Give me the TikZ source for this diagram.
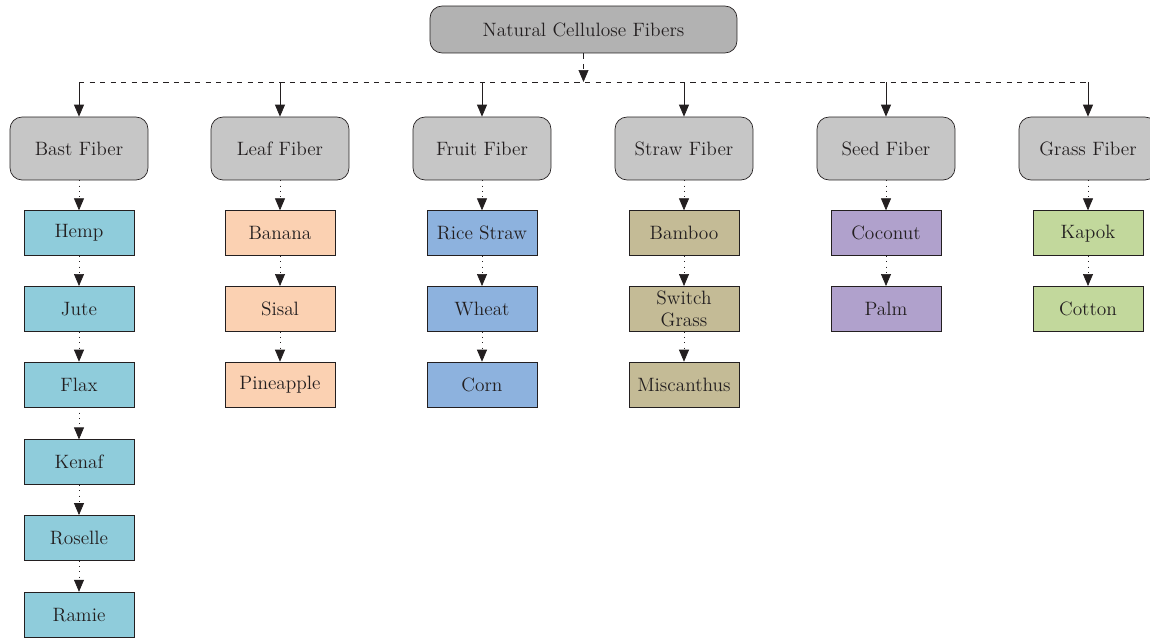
\documentclass[tikz,border=0pt]{standalone}
\usepackage{tikz}
\usetikzlibrary{positioning,arrows.meta}
\usepackage{xcolor}
\definecolor{topgray}{RGB}{178,178,178}
\definecolor{catgray}{RGB}{198,198,198}
\definecolor{bastc}{RGB}{143,204,219}
\definecolor{leafc}{RGB}{251,209,178}
\definecolor{fruitc}{RGB}{141,178,222}
\definecolor{strawc}{RGB}{196,187,150}
\definecolor{seedc}{RGB}{176,161,204}
\definecolor{grassc}{RGB}{194,216,156}
\definecolor{inkc}{RGB}{35,31,32}

\begin{document}
\begin{tikzpicture}[x=0.02cm,y=-0.02cm,font=\fontsize{11pt}{13pt}\selectfont,text=inkc,
				catbox/.style={draw=inkc,fill=catgray,rounded corners=0.24cm,minimum width=2.76cm,minimum height=1.26cm},
				itembox/.style={draw=inkc,minimum width=2.2cm,minimum height=0.9cm,inner sep=1pt},
				tip/.style={-{Triangle[width=0.2cm,length=0.24cm]},draw=inkc},
				dots/.style={dash pattern=on 0.5pt off 2.5pt},
				node distance=0.6cm]
				\useasboundingbox (0,0) rectangle (1150,639);
				\node [catbox,fill=topgray,minimum width=6.14cm,minimum height=0.94cm] (nat) at (583.5,29.5) {Natural Cellulose Fibers};
				\node [catbox] (bast) at (79,148.5) {Bast Fiber};
				\node [catbox] (leaf) at (280,148.5) {Leaf Fiber};
				\node [catbox] (fruit) at (482,148.5) {Fruit Fiber};
				\node [catbox] (straw) at (684,148.5) {Straw Fiber};
				\node [catbox] (seed) at (886,148.5) {Seed Fiber};
				\node [catbox] (grass) at (1088,148.5) {Grass Fiber};
				% bast
				\node [itembox,fill=bastc,below=of bast] (hemp) {Hemp};
				\node [itembox,fill=bastc,below=of hemp] (jute) {Jute};
				\node [itembox,fill=bastc,below=of jute] (flax) {Flax};
				\node [itembox,fill=bastc,below=0.64cm of flax] (kenaf) {Kenaf};
				\node [itembox,fill=bastc,below=of kenaf] (roselle) {Roselle};
				\node [itembox,fill=bastc,below=0.62cm of roselle] (ramie) {Ramie};
				% leaf
				\node [itembox,fill=leafc,below=of leaf] (banana) {Banana};
				\node [itembox,fill=leafc,below=of banana] (sisal) {Sisal};
				\node [itembox,fill=leafc,below=of sisal] (pine) {Pineapple};
				% fruit
				\node [itembox,fill=fruitc,below=of fruit] (rice) {Rice Straw};
				\node [itembox,fill=fruitc,below=of rice] (wheat) {Wheat};
				\node [itembox,fill=fruitc,below=of wheat] (corn) {Corn};
				% straw
				\node [itembox,fill=strawc,below=of straw] (bamboo) {Bamboo};
				\node [itembox,fill=strawc,below=of bamboo,align=center,inner sep=0pt,font=\fontsize{11pt}{12.5pt}\selectfont] (switch) {Switch\\Grass};
				\node [itembox,fill=strawc,below=of switch] (misc) {Miscanthus};
				% seed
				\node [itembox,fill=seedc,below=of seed] (coco) {Coconut};
				\node [itembox,fill=seedc,below=of coco] (palm) {Palm};
				% grass
				\node [itembox,fill=grassc,below=of grass] (kapok) {Kapok};
				\node [itembox,fill=grassc,below=of kapok] (cotton) {Cotton};

				\coordinate (split) at (583.5,82);
				\draw [tip,dashed] (nat) -- (split);
				\draw [inkc,dashed] (bast.north |- split) -- (grass.north |- split);
				\draw [tip] (bast.north |- split) -- (bast);
				\draw [tip] (leaf.north |- split) -- (leaf);
				\draw [tip] (fruit.north |- split) -- (fruit);
				\draw [tip] (straw.north |- split) -- (straw);
				\draw [tip] (seed.north |- split) -- (seed);
				\draw [tip] (grass.north |- split) -- (grass);

				\draw [tip,dots] (bast) -- (hemp);
				\draw [tip,dots] (hemp) -- (jute);
				\draw [tip,dots] (jute) -- (flax);
				\draw [tip,dots] (flax) -- (kenaf);
				\draw [tip,dots] (kenaf) -- (roselle);
				\draw [tip,dots] (roselle) -- (ramie);
				\draw [tip,dots] (leaf) -- (banana);
				\draw [tip,dots] (banana) -- (sisal);
				\draw [tip,dots] (sisal) -- (pine);
				\draw [tip,dots] (fruit) -- (rice);
				\draw [tip,dots] (rice) -- (wheat);
				\draw [tip,dots] (wheat) -- (corn);
				\draw [tip,dots] (straw) -- (bamboo);
				\draw [tip,dots] (bamboo) -- (switch);
				\draw [tip,dots] (switch) -- (misc);
				\draw [tip,dots] (seed) -- (coco);
				\draw [tip,dots] (coco) -- (palm);
				\draw [tip,dots] (grass) -- (kapok);
				\draw [tip,dots] (kapok) -- (cotton);
\end{tikzpicture}
\end{document}
